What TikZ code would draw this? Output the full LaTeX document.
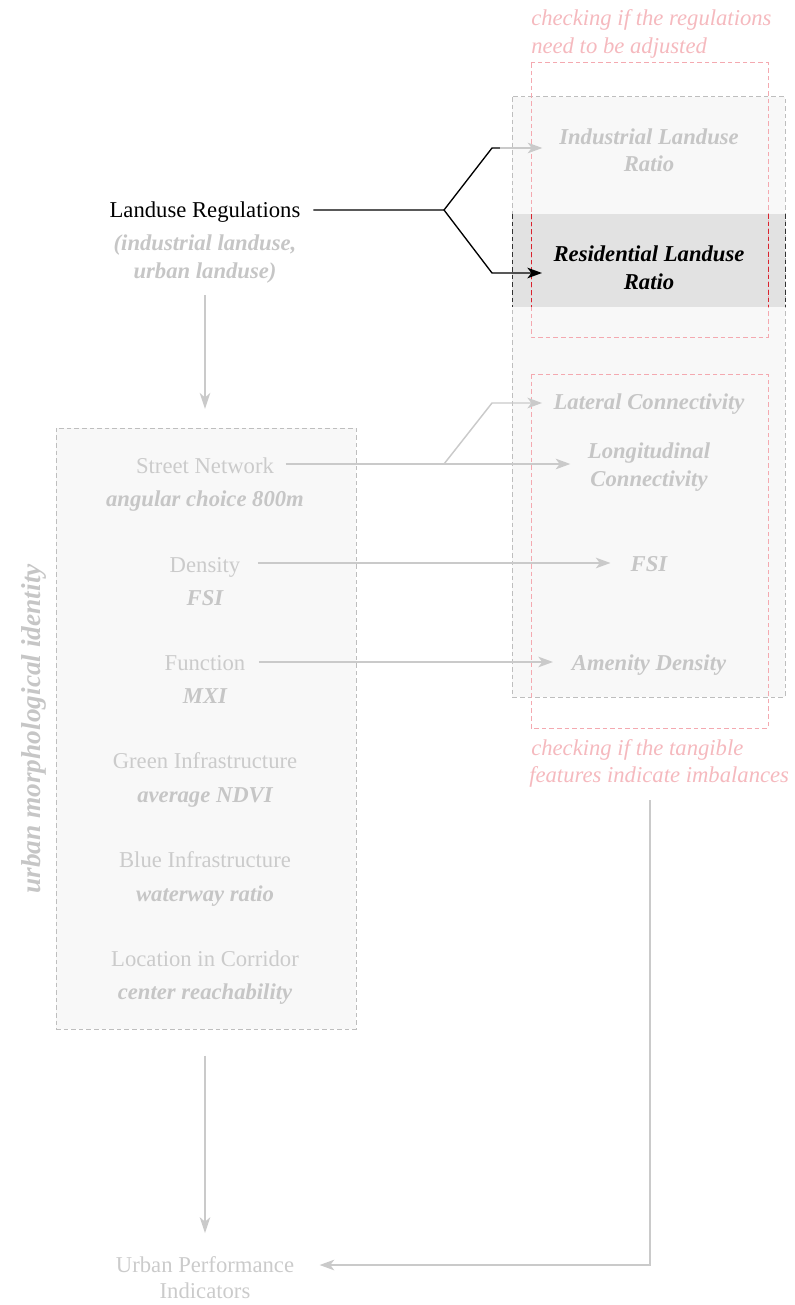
\documentclass[tikz,border=0pt]{standalone}
\usepackage{fontspec}
\setmainfont{Liberation Serif}
\usetikzlibrary{arrows.meta}
\definecolor{linegray}{HTML}{CACACA}
\definecolor{txtgray}{HTML}{CBCBCB}
\definecolor{bigray}{HTML}{C6C6C6}
\definecolor{pinktxt}{HTML}{F5B9BE}
\definecolor{pinkdash}{HTML}{F4A9B0}
\definecolor{reddash}{HTML}{D9232E}
\definecolor{boxdash}{HTML}{BEBEBE}
\definecolor{boxfill}{HTML}{F8F8F8}
\definecolor{bandfill}{HTML}{E2E2E2}
\begin{document}
\begin{tikzpicture}[x=0.75pt,y=-0.75pt,
  lbl/.style={inner sep=0pt, anchor=base, text=txtgray, font=\fontsize{17}{20}\selectfont},
  bilbl/.style={inner sep=0pt, anchor=base, text=bigray, font=\fontsize{17}{20}\selectfont\bfseries\itshape},
  pinklbl/.style={inner sep=0pt, anchor=base west, text=pinktxt, font=\fontsize{17}{20}\selectfont\itshape},
  dashbox/.style={draw=boxdash, fill=boxfill, line width=0.75pt, dash pattern=on 3.4pt off 2.3pt},
  pinkbox/.style={draw=pinkdash, line width=0.75pt, dash pattern=on 3.4pt off 2.3pt},
  darkdash/.style={draw=black!80, line width=0.75pt, dash pattern=on 3.4pt off 2.3pt},
  reddashed/.style={draw=reddash, line width=0.75pt, dash pattern=on 3.4pt off 2.3pt},
  gline/.style={draw=linegray, line width=1.1pt},
  garrow/.style={gline, -{Stealth[length=11pt,width=8pt,inset=3pt]}},
  bline/.style={draw=black, line width=1pt},
  barrow/.style={bline, -{Stealth[length=11pt,width=8pt,inset=3pt]}},
  downarrow/.style={gline, -{Stealth[length=12pt,width=8pt,inset=3.5pt]}}
]
\useasboundingbox (0,0) rectangle (794,1305);

% right outer box and highlighted band
\path[dashbox] (512,97) rectangle (785,697);
\fill[bandfill] (512,214) rectangle (785,307);
\draw[darkdash] (512,214) -- (512,307);
\draw[darkdash] (785,214) -- (785,307);

% left box
\node[dashbox, inner sep=0pt, minimum width=225pt, minimum height=450.75pt] (ubox) at (206,728.5) {};

% pink boxes
\draw[pinkbox] (531,63) rectangle (768,337);
\draw[pinkbox] (531,374) rectangle (768,728);
\draw[reddashed] (531,214) -- (531,307);
\draw[reddashed] (768,214) -- (768,307);

% pink annotations
\node[pinklbl] (pt1) at (531,26) {checking if the regulations};
\node[pinklbl] (pt2) at (531,54) {need to be adjusted};
\node[pinklbl] (pb1) at (531,755) {checking if the tangible};
\node[pinklbl] (pb2) at (529,782) {features indicate imbalances};

% landuse regulations
\node[lbl, text=black] (lr) at (205,218) {Landuse Regulations};
\node[bilbl] (lrs1) at (205,250) {(industrial landuse,};
\node[bilbl] (lrs2) at (205,278) {urban landuse)};

% right column
\node[bilbl] (ind1) at (649,145) {Industrial Landuse};
\node[bilbl] (ind2) at (649,172) {Ratio};
\node[bilbl, text=black] (res1) at (649,262) {Residential Landuse};
\node[bilbl, text=black] (res2) at (649,289) {Ratio};
\node[bilbl] (lat) at (649,409) {Lateral Connectivity};
\node[bilbl] (lon1) at (649,458) {Longitudinal};
\node[bilbl] (lon2) at (649,486) {Connectivity};
\node[bilbl] (fsiR) at (649,571) {FSI};
\node[bilbl] (amen) at (649,670) {Amenity Density};

% left box contents
\node[lbl] (sn) at (205,473) {Street Network};
\node[bilbl] (snm) at (205,506) {angular choice 800m};
\node[lbl] (den) at (205,572) {Density};
\node[bilbl] (denm) at (205,605) {FSI};
\node[lbl] (fun) at (205,670) {Function};
\node[bilbl] (funm) at (205,703) {MXI};
\node[lbl] (gi) at (205,768) {Green Infrastructure};
\node[bilbl] (gim) at (205,802) {average NDVI};
\node[lbl] (bi) at (205,867) {Blue Infrastructure};
\node[bilbl] (bim) at (205,901) {waterway ratio};
\node[lbl] (loc) at (205,966) {Location in Corridor};
\node[bilbl] (locm) at (205,999) {center reachability};

\node[inner sep=0pt, rotate=90, text=bigray, font=\fontsize{20.5}{24}\selectfont\bfseries\itshape] (umi) at (34,729) {urban morphological identity};

% urban performance indicators
\node[lbl] (up1) at (205,1272) {Urban Performance};
\node[lbl] (up2) at (205,1298) {Indicators};

% junction coordinates
\coordinate (jL) at (444,210);
\coordinate (jL1) at (492,148);
\coordinate (jL1b) at (500,148);
\coordinate (jL2) at (492,273);
\coordinate (jS) at (444,464);
\coordinate (jS1) at (492,403);
\coordinate (jD) at (444,563);
\coordinate (jF) at (444,662);
\coordinate (rc) at (650,1265);

% landuse regulation connectors
\draw[bline] ([xshift=9.5pt]lr.east |- jL) -- (jL) -- (jL1) -- (jL1b);
\draw[garrow] (jL1b) -- ([xshift=-12.5pt]jL1b -| ind1.west);
\draw[barrow] (jL) -- (jL2) -- ([xshift=-8.5pt]jL2 -| res1.west);

% street network connectors
\draw[garrow] ([xshift=8.5pt]sn.east |- jS) -- ([xshift=-13pt]jS -| lon1.west);
\draw[garrow] (jS) -- (jS1) -- ([xshift=-8.5pt]jS1 -| lat.west);

% density / function
\draw[garrow] ([xshift=13pt]den.east |- jD) -- ([xshift=-15pt]jD -| fsiR.west);
\draw[garrow] ([xshift=10pt]fun.east |- jF) -- ([xshift=-14pt]jF -| amen.west);

% vertical flow arrows
\draw[downarrow] ([yshift=-9pt]lrs2.south) -- ([yshift=14pt]ubox.north -| lrs2.south);
\draw[downarrow] ([yshift=-19.5pt]ubox.south -| up1.north) -- ([yshift=17pt]up1.north);

% return arrow
\draw[garrow] ([yshift=-10pt]pb2.south -| rc) -- (rc) -- ([xshift=19pt]up1.east |- rc);
\end{tikzpicture}
\end{document}
